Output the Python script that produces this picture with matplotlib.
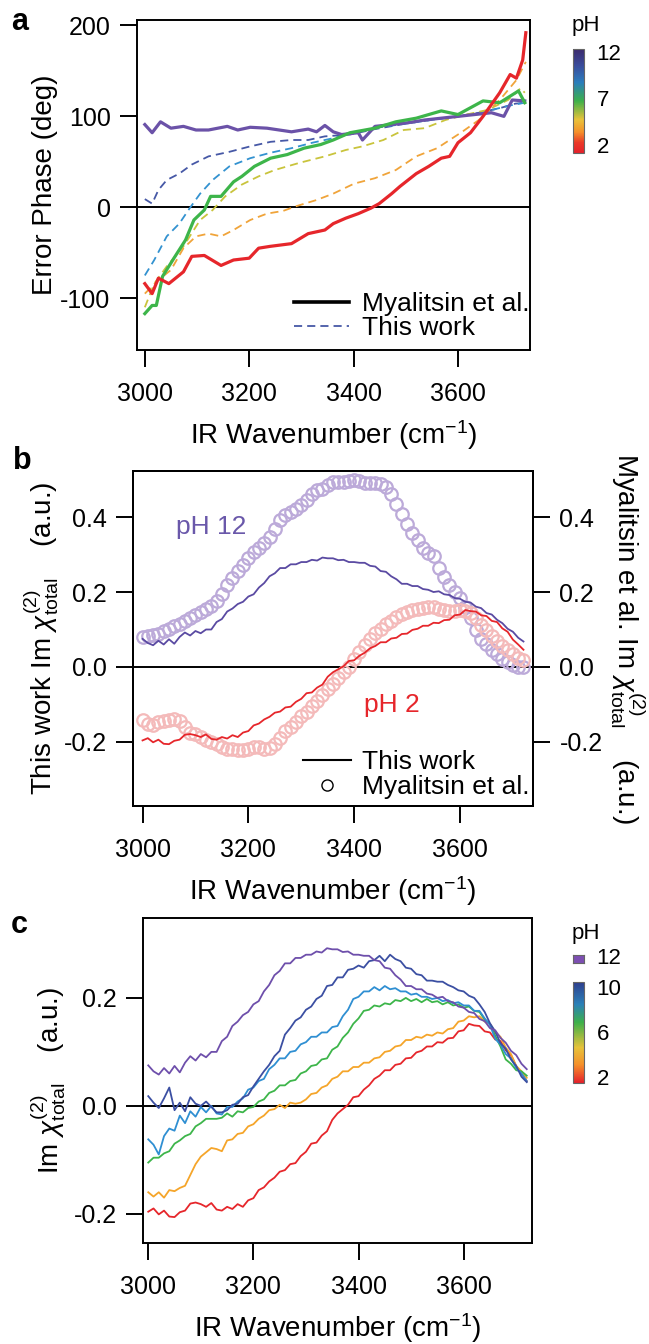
import numpy as np
import matplotlib
matplotlib.use("Agg")
import matplotlib.pyplot as plt
from matplotlib.colors import LinearSegmentedColormap, Normalize
from matplotlib.cm import ScalarMappable
from matplotlib.lines import Line2D
from matplotlib.ticker import FormatStrFormatter

plt.rcParams["font.family"] = ["Liberation Sans", "DejaVu Sans"]
plt.rcParams["mathtext.fontset"] = "custom"
plt.rcParams["mathtext.rm"] = "Liberation Sans"
plt.rcParams["mathtext.it"] = "Liberation Sans:italic"
plt.rcParams["axes.unicode_minus"] = False
plt.rcParams["font.size"] = 18

# ---------------- panel a: error phase (deg) ----------------
# solid = Myalitsin et al., dashed = this work
wn_a_red = [3000, 3014, 3026, 3046, 3074, 3090, 3114, 3146, 3170, 3200, 3218, 3240, 3281, 3313, 3345,
            3361, 3385, 3409, 3433, 3449, 3473, 3489, 3520, 3544, 3568, 3584, 3600, 3624, 3648, 3680,
            3700, 3712, 3724, 3730]
ph_a_red = [-84, -95, -78, -84, -71, -54, -53, -64, -58, -56, -45, -43, -40, -29, -25,
            -18, -12, -7, -1, 4, 15, 23, 37, 45, 54, 56, 71, 82, 100, 126,
            146, 142, 162, 192]

wn_a_green = [3000, 3014, 3022, 3034, 3058, 3078, 3094, 3114, 3126, 3146, 3170, 3186, 3210, 3241,
              3273, 3305, 3337, 3361, 3393, 3441, 3481, 3520, 3568, 3600, 3648, 3680, 3716, 3728]
ph_a_green = [-117, -108, -108, -76, -54, -36, -14, -3, 12, 12, 28, 34, 45, 54,
              58, 65, 69, 74, 82, 87, 94, 98, 106, 102, 117, 115, 128, 115]

wn_a_purple = [3000, 3014, 3030, 3050, 3074, 3098, 3122, 3158, 3178, 3202, 3234, 3281, 3313, 3329,
               3345, 3361, 3377, 3409, 3417, 3441, 3473, 3504, 3536, 3568, 3600, 3632, 3664, 3688,
               3704, 3728]
ph_a_purple = [91, 82, 94, 87, 89, 85, 85, 89, 85, 88, 87, 83, 86, 83,
               90, 83, 80, 82, 74, 89, 91, 93, 96, 98, 100, 102, 104, 100,
               118, 117]

wn_a_dblue = [3000, 3014, 3026, 3042, 3066, 3090, 3122, 3162, 3202, 3241, 3281, 3313, 3345, 3393,
              3441, 3500, 3560, 3600, 3640, 3680, 3710, 3728]
ph_a_dblue = [9, 4, 19, 30, 37, 47, 56, 61, 67, 72, 74, 74, 78, 80,
              86, 92, 97, 100, 104, 109, 114, 115]

wn_a_lblue = [3000, 3018, 3042, 3066, 3086, 3106, 3130, 3162, 3202, 3241, 3281, 3321, 3361, 3401,
              3450, 3500, 3560, 3600, 3650, 3700, 3728]
ph_a_lblue = [-75, -58, -32, -18, -1, 15, 30, 45, 54, 60, 65, 71, 76, 82,
              88, 92, 97, 100, 105, 112, 115]

wn_a_yellow = [3000, 3018, 3042, 3074, 3106, 3130, 3154, 3186, 3218, 3249, 3297, 3345, 3385, 3417,
               3457, 3496, 3536, 3576, 3616, 3656, 3696, 3720, 3728]
ph_a_yellow = [-110, -84, -65, -43, -14, -3, 12, 25, 34, 41, 49, 56, 63, 67,
               74, 85, 87, 96, 102, 107, 118, 131, 126]

wn_a_orange = [3000, 3026, 3050, 3074, 3098, 3122, 3146, 3170, 3202, 3234, 3265, 3289, 3329, 3361,
               3401, 3441, 3481, 3520, 3560, 3584, 3608, 3640, 3680, 3712, 3730]
ph_a_orange = [-95, -80, -69, -45, -32, -29, -32, -25, -14, -7, -4, 1, 8, 15,
               26, 32, 41, 56, 65, 74, 83, 96, 118, 140, 160]

# ---------------- panels b, c: Im chi(2) total, 3000-3720 cm-1 every 10 cm-1 ----------------
im_ph2 = [-0.196, -0.190, -0.201, -0.194, -0.205, -0.206, -0.197, -0.194, -0.181, -0.179,
          -0.182, -0.187, -0.180, -0.192, -0.194, -0.187, -0.191, -0.182, -0.187, -0.175,
          -0.171, -0.156, -0.151, -0.140, -0.133, -0.122, -0.119, -0.108, -0.106, -0.093,
          -0.085, -0.070, -0.068, -0.055, -0.047, -0.026, -0.014, -0.006, 0.002, 0.016,
          0.018, 0.030, 0.038, 0.050, 0.056, 0.066, 0.066, 0.076, 0.078, 0.088,
          0.089, 0.099, 0.102, 0.110, 0.110, 0.118, 0.117, 0.125, 0.126, 0.138,
          0.140, 0.152, 0.149, 0.148, 0.138, 0.136, 0.123, 0.120, 0.103, 0.094,
          0.073, 0.060, 0.046]
im_ph4 = [-0.160, -0.168, -0.160, -0.170, -0.156, -0.158, -0.152, -0.148, -0.128, -0.108,
          -0.094, -0.086, -0.078, -0.080, -0.084, -0.064, -0.062, -0.052, -0.050, -0.038,
          -0.034, -0.024, -0.018, -0.008, -0.006, 0.002, -0.004, 0.006, 0.004, 0.006,
          0.012, 0.022, 0.024, 0.034, 0.038, 0.050, 0.054, 0.064, 0.064, 0.072,
          0.072, 0.080, 0.080, 0.088, 0.090, 0.100, 0.102, 0.110, 0.112, 0.122,
          0.122, 0.128, 0.126, 0.132, 0.130, 0.136, 0.134, 0.142, 0.144, 0.156,
          0.158, 0.166, 0.164, 0.166, 0.156, 0.152, 0.136, 0.128, 0.108, 0.096,
          0.074, 0.064, 0.052]
im_ph6 = [-0.105, -0.096, -0.096, -0.088, -0.084, -0.070, -0.064, -0.056, -0.052, -0.038,
          -0.032, -0.024, -0.024, -0.024, -0.022, -0.014, -0.020, -0.010, -0.012, -0.004,
          -0.002, 0.008, 0.012, 0.024, 0.028, 0.038, 0.038, 0.046, 0.048, 0.060,
          0.064, 0.074, 0.076, 0.086, 0.088, 0.104, 0.110, 0.126, 0.136, 0.152,
          0.162, 0.176, 0.178, 0.186, 0.184, 0.190, 0.188, 0.196, 0.194, 0.200,
          0.194, 0.198, 0.192, 0.198, 0.192, 0.194, 0.188, 0.192, 0.186, 0.188,
          0.182, 0.184, 0.176, 0.174, 0.160, 0.152, 0.130, 0.110, 0.086, 0.078,
          0.066, 0.064, 0.056]
im_ph8 = [-0.062, -0.072, -0.090, -0.056, -0.042, -0.046, -0.018, -0.032, -0.010, -0.020,
          -0.002, -0.012, 0.000, -0.014, -0.016, -0.002, -0.002, 0.008, 0.014, 0.030,
          0.034, 0.046, 0.050, 0.068, 0.076, 0.088, 0.088, 0.100, 0.102, 0.114,
          0.118, 0.128, 0.128, 0.136, 0.136, 0.146, 0.148, 0.166, 0.178, 0.198,
          0.202, 0.212, 0.212, 0.220, 0.214, 0.222, 0.216, 0.218, 0.212, 0.212,
          0.206, 0.208, 0.202, 0.202, 0.198, 0.200, 0.194, 0.196, 0.190, 0.192,
          0.186, 0.186, 0.176, 0.176, 0.162, 0.150, 0.124, 0.114, 0.096, 0.088,
          0.070, 0.060, 0.046]
im_ph10 = [0.018, 0.006, -0.004, 0.014, 0.034, -0.008, 0.006, -0.010, 0.016, 0.004,
           0.000, 0.008, -0.002, -0.012, -0.012, -0.008, 0.002, 0.004, 0.016, 0.020,
           0.036, 0.050, 0.064, 0.076, 0.092, 0.102, 0.132, 0.144, 0.158, 0.164,
           0.178, 0.184, 0.198, 0.204, 0.222, 0.224, 0.238, 0.238, 0.252, 0.254,
           0.260, 0.256, 0.268, 0.270, 0.278, 0.268, 0.280, 0.272, 0.268, 0.256,
           0.254, 0.244, 0.242, 0.232, 0.232, 0.230, 0.230, 0.224, 0.220, 0.214,
           0.212, 0.204, 0.200, 0.188, 0.174, 0.153, 0.138, 0.116, 0.106, 0.086,
           0.074, 0.054, 0.044]
im_ph12 = [0.075, 0.064, 0.058, 0.070, 0.060, 0.074, 0.062, 0.080, 0.092, 0.084,
           0.096, 0.090, 0.100, 0.100, 0.120, 0.128, 0.148, 0.156, 0.168, 0.174,
           0.188, 0.194, 0.212, 0.224, 0.242, 0.250, 0.264, 0.264, 0.274, 0.274,
           0.280, 0.280, 0.286, 0.284, 0.292, 0.290, 0.290, 0.285, 0.286, 0.280,
           0.280, 0.278, 0.278, 0.270, 0.268, 0.256, 0.254, 0.242, 0.234, 0.222,
           0.222, 0.216, 0.216, 0.208, 0.206, 0.200, 0.202, 0.194, 0.192, 0.184,
           0.182, 0.174, 0.172, 0.161, 0.157, 0.144, 0.140, 0.126, 0.117, 0.102,
           0.094, 0.078, 0.068]

# Myalitsin et al. spectra (open circles)
mya_ph12 = [0.080, 0.082, 0.085, 0.089, 0.096, 0.102, 0.110, 0.116, 0.124, 0.132,
            0.140, 0.146, 0.154, 0.162, 0.176, 0.195, 0.218, 0.238, 0.256, 0.272,
            0.290, 0.306, 0.318, 0.332, 0.348, 0.368, 0.392, 0.406, 0.414, 0.422,
            0.432, 0.446, 0.462, 0.472, 0.474, 0.486, 0.493, 0.494, 0.494, 0.496,
            0.498, 0.496, 0.492, 0.492, 0.490, 0.488, 0.480, 0.462, 0.436, 0.408,
            0.382, 0.358, 0.338, 0.318, 0.304, 0.296, 0.264, 0.240, 0.218, 0.200,
            0.184, 0.160, 0.130, 0.100, 0.076, 0.060, 0.046, 0.034, 0.022, 0.012,
            0.004, 0.000, 0.000]
mya_ph2 = [-0.142, -0.152, -0.156, -0.148, -0.143, -0.142, -0.140, -0.145, -0.160, -0.175,
           -0.180, -0.186, -0.194, -0.200, -0.206, -0.214, -0.218, -0.220, -0.222, -0.221,
           -0.218, -0.214, -0.214, -0.218, -0.216, -0.206, -0.190, -0.172, -0.160, -0.146,
           -0.132, -0.120, -0.104, -0.090, -0.076, -0.060, -0.045, -0.030, -0.014, 0.000,
           0.022, 0.040, 0.058, 0.074, 0.090, 0.102, 0.114, 0.124, 0.134, 0.142,
           0.148, 0.152, 0.156, 0.158, 0.160, 0.160, 0.156, 0.152, 0.150, 0.150,
           0.152, 0.150, 0.144, 0.130, 0.112, 0.098, 0.084, 0.068, 0.056, 0.044,
           0.034, 0.025, 0.018]

wn = 3000 + 10 * np.arange(len(im_ph2))

red = "#e6262b"
orange = "#f5a52a"
green = "#3db54a"
lblue = "#2f8fd2"
dblue = "#3b4fa2"
purple = "#6b52a8"

fig = plt.figure(figsize=(6.49, 13.44), dpi=100)
W, H = 649, 1344


def px_axes(l, t, r, b):
    return fig.add_axes([l / W, 1 - b / H, (r - l) / W, (b - t) / H])


def style(ax):
    for s in ax.spines.values():
        s.set_linewidth(1.4)
    ax.tick_params(axis="both", direction="out", length=12, width=1.4, pad=7)
    ax.tick_params(axis="x", pad=11, top=False)
    ax.set_xticks([3000, 3200, 3400, 3600])
    ax.axhline(0, color="k", lw=1.4, zorder=1)


xlab = "IR Wavenumber (cm$^{-1}$)"

# ---- a ----
ax_a = px_axes(137, 20, 530, 350)
dash = (4.5, 2.8)
ax_a.plot(wn_a_dblue, ph_a_dblue, color="#4658a6", lw=1.3, dashes=dash)
ax_a.plot(wn_a_lblue, ph_a_lblue, color="#3392d0", lw=1.3, dashes=dash)
ax_a.plot(wn_a_yellow, ph_a_yellow, color="#c9c43c", lw=1.3, dashes=dash)
ax_a.plot(wn_a_orange, ph_a_orange, color="#f0a43a", lw=1.3, dashes=dash)
ax_a.plot(wn_a_purple, ph_a_purple, color=purple, lw=2.3)
ax_a.plot(wn_a_green, ph_a_green, color=green, lw=2.3)
ax_a.plot(wn_a_red, ph_a_red, color=red, lw=2.3)
ax_a.set_xlim(2985, 3738)
ax_a.set_ylim(-157, 206)
ax_a.set_yticks([-100, 0, 100, 200])
style(ax_a)
ax_a.set_ylabel("Error Phase (deg)", fontsize=20, labelpad=2)
ax_a.set_xlabel(xlab, fontsize=20, labelpad=9)
ax_a.legend(
    [Line2D([], [], color="k", lw=2.6), Line2D([], [], color="#4658a6", lw=1.3, dashes=dash)],
    ["Myalitsin et al.", "This work"],
    loc="lower right", bbox_to_anchor=(1.0, 0.03), frameon=False, borderaxespad=0,
    borderpad=0, handlelength=2.1, handletextpad=0.5, labelspacing=0.0, fontsize=19)

# pH colour bar for a
cmap_a = LinearSegmentedColormap.from_list(
    "ph_a", [(0.0, "#e5202a"), (0.1, "#ea3a28"), (0.2, "#f5902a"), (0.32, "#e8c23a"),
             (0.5, "#3db04a"), (0.68, "#2a7dbc"), (0.84, "#3a4c9c"), (1.0, "#3c2a6c")])
cax_a = px_axes(573, 49, 584, 153)
cb_a = fig.colorbar(ScalarMappable(Normalize(1.15, 12.3), cmap_a), cax=cax_a, ticks=[2, 7, 12])
cb_a.outline.set_edgecolor("#666666")
cb_a.outline.set_linewidth(0.8)
cax_a.tick_params(length=0, labelsize=16, pad=9)
fig.text(572 / W, 1 - 26 / H, "pH", fontsize=16, ha="left", va="center")

# ---- b ----
ax_b = px_axes(133, 471, 533, 806)
ax_b.plot(wn, mya_ph12, ls="none", marker="o", ms=9, mfc="none", mec="#bcaad9", mew=1.6)
ax_b.plot(wn, mya_ph2, ls="none", marker="o", ms=9, mfc="none", mec="#f4baba", mew=1.6)
ax_b.plot(wn, im_ph12, color="#5a4aa2", lw=1.3)
ax_b.plot(wn, im_ph2, color=red, lw=1.3)
ax_b.set_xlim(2982, 3738)
ax_b.set_ylim(-0.371, 0.523)
ax_b.set_yticks([-0.2, 0.0, 0.2, 0.4])
ax_b.yaxis.set_major_formatter(FormatStrFormatter("%.1f"))
style(ax_b)
ax_b2 = ax_b.twinx()
ax_b2.set_ylim(ax_b.get_ylim())
ax_b2.set_yticks([-0.2, 0.0, 0.2, 0.4])
ax_b2.yaxis.set_major_formatter(FormatStrFormatter("%.1f"))
ax_b2.tick_params(axis="y", direction="out", length=12, width=1.4, pad=7)
for s in ax_b2.spines.values():
    s.set_linewidth(1.4)
ax_b.set_ylabel(r"This work Im $\chi^{(2)}_{\mathrm{total}}$    (a.u.)", fontsize=20, labelpad=2)
ax_b2.set_ylabel(r"Myalitsin et al. Im $\chi^{(2)}_{\mathrm{total}}$    (a.u.)", fontsize=20,
                 rotation=270, va="bottom", labelpad=4)
ax_b.set_xlabel(xlab, fontsize=20, labelpad=9)
ax_b.text(3129, 0.373, "pH 12", color="#6a58aa", fontsize=19, ha="center", va="center")
ax_b.text(3472, -0.101, "pH 2", color=red, fontsize=19, ha="center", va="center")
ax_b.legend(
    [Line2D([], [], color="k", lw=1.5),
     Line2D([], [], ls="none", marker="o", ms=8, mfc="none", mec="k", mew=1.0)],
    ["This work", "Myalitsin et al."],
    loc="lower right", bbox_to_anchor=(0.99, 0.02), frameon=False, borderaxespad=0,
    borderpad=0, handlelength=1.8, handletextpad=0.4, labelspacing=0.05, fontsize=19)

# ---- c ----
ax_c = px_axes(143, 918, 532, 1243)
ax_c.plot(wn, im_ph2, color=red, lw=1.3)
ax_c.plot(wn, im_ph4, color=orange, lw=1.3)
ax_c.plot(wn, im_ph6, color=green, lw=1.3)
ax_c.plot(wn, im_ph8, color=lblue, lw=1.3)
ax_c.plot(wn, im_ph10, color=dblue, lw=1.3)
ax_c.plot(wn, im_ph12, color="#6e4fab", lw=1.3)
ax_c.set_xlim(2990, 3730)
ax_c.set_ylim(-0.254, 0.348)
ax_c.set_yticks([-0.2, 0.0, 0.2])
ax_c.yaxis.set_major_formatter(FormatStrFormatter("%.1f"))
style(ax_c)
ax_c.set_ylabel(r"Im $\chi^{(2)}_{\mathrm{total}}$    (a.u.)", fontsize=20, labelpad=4)
ax_c.set_xlabel(xlab, fontsize=20, labelpad=9)

cmap_c = LinearSegmentedColormap.from_list(
    "ph_c", [(0.0, "#e5202a"), (0.18, "#f5902a"), (0.35, "#e6c23a"), (0.6, "#3db04a"),
             (0.78, "#2a80b8"), (1.0, "#2e3f8e")])
cax_c = px_axes(573, 982, 584, 1083)
cb_c = fig.colorbar(ScalarMappable(Normalize(1.47, 10.44), cmap_c), cax=cax_c, ticks=[2, 6, 10])
cb_c.outline.set_edgecolor("#666666")
cb_c.outline.set_linewidth(0.8)
cax_c.tick_params(length=0, labelsize=16, pad=9)
sq = px_axes(573, 955, 584, 963)
sq.set_facecolor("#7d4fb2")
sq.set_xticks([])
sq.set_yticks([])
for s in sq.spines.values():
    s.set_edgecolor("#666666")
    s.set_linewidth(0.8)
fig.text(596 / W, 1 - 959 / H, "12", fontsize=16, ha="left", va="center")
fig.text(572 / W, 1 - 933 / H, "pH", fontsize=16, ha="left", va="center")

# panel letters
fig.text(11 / W, 1 - 22 / H, "a", fontsize=22, fontweight="bold", ha="left", va="center")
fig.text(13 / W, 1 - 461 / H, "b", fontsize=22, fontweight="bold", ha="left", va="center")
fig.text(11 / W, 1 - 925 / H, "c", fontsize=22, fontweight="bold", ha="left", va="center")

fig.savefig("out.png", dpi=100)
